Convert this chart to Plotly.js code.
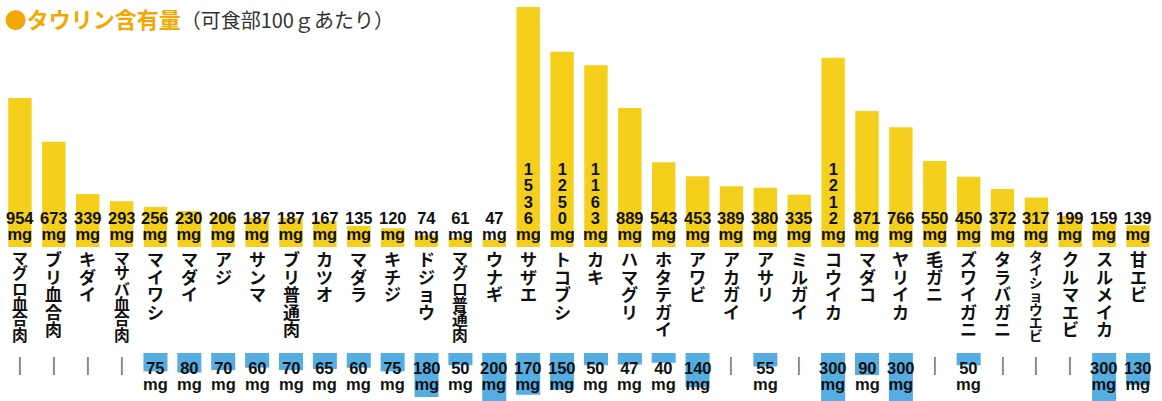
<!DOCTYPE html>
<html>
<head>
<meta charset="utf-8">
<script src="https://cdn.plot.ly/plotly-3.0.1.min.js"></script>
<style>
  html, body { margin: 0; padding: 0; background: #ffffff; }
  #chart { width: 1162px; height: 401px; }
</style>
</head>
<body>
<div id="chart"></div>
<script>
// Foods, taurine per 100 g (upper bars) and cholesterol per 100 g (lower bars; null = no value)
const names = [
  'マグロ血合肉', 'ブリ血合肉', 'キダイ', 'マサバ血合肉', 'マイワシ', 'マダイ', 'アジ', 'サンマ',
  'ブリ普通肉', 'カツオ', 'マダラ', 'キチジ', 'ドジョウ', 'マグロ普通肉', 'ウナギ', 'サザエ',
  'トコブシ', 'カキ', 'ハマグリ', 'ホタテガイ', 'アワビ', 'アカガイ', 'アサリ', 'ミルガイ',
  'コウイカ', 'マダコ', 'ヤリイカ', '毛ガニ', 'ズワイガニ', 'タラバガニ', 'タイショウエビ', 'クルマエビ',
  'スルメイカ', '甘エビ'
];
const taurineMg = [
  954, 673, 339, 293, 256, 230, 206, 187,
  187, 167, 135, 120, 74, 61, 47, 1536,
  1250, 1163, 889, 543, 453, 389, 380, 335,
  1212, 871, 766, 550, 450, 372, 317, 199,
  159, 139
];
const cholesterolMg = [
  null, null, null, null, 75, 80, 70, 60,
  70, 65, 60, 75, 180, 50, 200, 170,
  150, 50, 47, 40, 140, null, 55, null,
  300, 90, 300, null, 50, null, null, null,
  300, 130
];

const W = 1162, H = 401;
const BASE = 247;        // pixel row of the upper bars' baseline
const TAU_PX = 0.15625;  // pixels per mg, upper bars
const CHOL_TOP = 353;    // pixel row where the lower bars hang from
const CHOL_PX = 0.245;   // pixels per mg, lower bars
const NAME_BOX = 92;     // pixel height available to a vertical name
const NAME_PITCH = 17.5; // natural character pitch of a vertical name

const YELLOW = '#F4D01C';
const BLUE = '#56ADE2';

// Line pitch comes from the base font size (x1.3); glyph size comes from the inner spans.
const NUM_FONT = { family: '"Liberation Sans", Arial, sans-serif', size: 12.5, color: '#111111', weight: 700 };
const numSpan = t => '<span style="font-size:16.5px">' + t + '</span>';

const traces = [
  {
    type: 'bar', x: names, y: taurineMg, xaxis: 'x', yaxis: 'y',
    width: 0.69, marker: { color: YELLOW, line: { width: 0 } },
    hoverinfo: 'x+y'
  },
  {
    type: 'bar', x: names, y: cholesterolMg, xaxis: 'x', yaxis: 'y2',
    width: 0.71, marker: { color: BLUE, line: { width: 0 } },
    hoverinfo: 'x+y'
  }
];

const annotations = [];

names.forEach((name, i) => {
  // value label at the foot of each upper bar: digits stacked when 4 long
  const v = String(taurineMg[i]);
  const lines = v.length > 3 ? v.split('') : [v];
  lines.push('mg');
  annotations.push({
    x: i, y: 0, xref: 'x', yref: 'y', showarrow: false,
    text: lines.map(numSpan).join('<br>'),
    xanchor: 'center', yanchor: 'bottom', yshift: 2,
    font: NUM_FONT
  });

  // vertical food name, squeezed to fit the label column when long
  const chars = name.split('');
  const pitch = Math.min(NAME_PITCH, NAME_BOX / chars.length);
  const glyph = Math.min(17, pitch + 0.5);
  annotations.push({
    x: i, y: (H - BASE) / H, xref: 'x', yref: 'paper', showarrow: false,
    text: chars.map(ch => '<span style="font-size:' + glyph.toFixed(1) + 'px">' + ch + '</span>').join('<br>'),
    xanchor: 'center', yanchor: 'top', yshift: 3,
    font: { family: '"Noto Sans CJK JP", sans-serif', size: pitch / 1.3, color: '#111111', weight: 700 }
  });

  // lower value label, or a tick mark when there is no value
  const c = cholesterolMg[i];
  if (c === null) {
    annotations.push({
      x: i, y: (H - CHOL_TOP) / H, xref: 'x', yref: 'paper', text: '|', showarrow: false,
      xanchor: 'center', yanchor: 'middle', yshift: -12,
      font: { family: 'DejaVu Sans', size: 17, color: '#666666' }
    });
  } else {
    annotations.push({
      x: i, y: (H - CHOL_TOP) / H, xref: 'x', yref: 'paper', showarrow: false,
      text: [String(c), 'mg'].map(numSpan).join('<br>'),
      xanchor: 'center', yanchor: 'top', yshift: -4,
      font: NUM_FONT
    });
  }
});

const layout = {
  width: W, height: H,
  margin: { l: 0, r: 0, t: 0, b: 0 },
  paper_bgcolor: '#ffffff', plot_bgcolor: 'rgba(0,0,0,0)',
  showlegend: false,
  title: {
    text: '<b>●タウリン含有量</b><span style="font-size:20px;color:#333333;font-weight:400">（可食部100ｇあたり）</span>',
    font: { family: '"Noto Sans CJK JP", sans-serif', size: 22, color: '#F2A800' },
    x: 0.004, xanchor: 'left', xref: 'paper',
    y: 1 - 20 / H, yanchor: 'middle', yref: 'container'
  },
  xaxis: {
    type: 'category', domain: [3 / W, 1155 / W], range: [-0.5, names.length - 0.5],
    visible: false, fixedrange: true
  },
  yaxis: {
    domain: [(H - BASE) / H, 1], range: [0, BASE / TAU_PX],
    visible: false, fixedrange: true
  },
  yaxis2: {
    domain: [0, (H - CHOL_TOP) / H], range: [(H - CHOL_TOP) / CHOL_PX, 0],
    visible: false, fixedrange: true
  },
  annotations: annotations
};

Plotly.newPlot('chart', traces, layout, { staticPlot: true, displayModeBar: false });
</script>
</body>
</html>
